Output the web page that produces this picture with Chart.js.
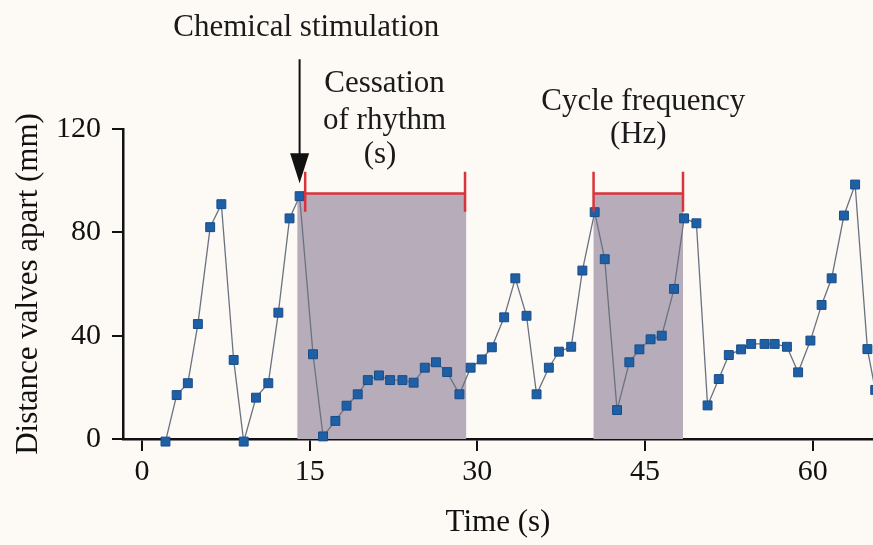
<!DOCTYPE html>
<html>
<head>
<meta charset="utf-8">
<script src="https://cdn.jsdelivr.net/npm/chart.js@4.4.1/dist/chart.umd.min.js"></script>
<style>
  html, body { margin: 0; padding: 0; background: #fdf9f5; }
  #wrap { width: 873px; height: 545px; }
</style>
</head>
<body>
<div id="wrap"><canvas id="chart" width="873" height="545"></canvas></div>
<script>
// 读取自原图的采样点（时间 s，阀门间距 mm）
const timeS = [
  2.1, 3.1, 4.1, 5.0, 6.1, 7.1, 8.2, 9.1, 10.2, 11.3, 12.2, 13.2, 14.1, 15.3,
  16.2, 17.3, 18.3, 19.3, 20.2, 21.2, 22.2, 23.3, 24.3, 25.3, 26.3, 27.3, 28.4,
  29.4, 30.4, 31.3, 32.4, 33.4, 34.4, 35.3, 36.4, 37.3, 38.4, 39.4, 40.5, 41.4,
  42.5, 43.6, 44.5, 45.5, 46.5, 47.6, 48.5, 49.6, 50.6, 51.6, 52.5, 53.6, 54.5,
  55.7, 56.6, 57.7, 58.7, 59.8, 60.8, 61.7, 62.8, 63.8, 64.9, 65.6
];
const distanceMm = [
  -1, 17, 21.6, 44.5, 82, 90.9, 30.6, -1, 16, 21.6, 48.9, 85.4, 94, 32.8,
  1, 7, 12.9, 17.3, 22.8, 24.6, 22.8, 22.8, 21.8, 27.6, 29.7, 25.9, 17.3,
  27.6, 30.8, 35.5, 47.1, 62.2, 47.7, 17.3, 27.6, 33.8, 35.7, 65.2, 87.8, 69.6,
  11.2, 29.7, 34.7, 38.6, 40, 58.1, 85.4, 83.5, 13, 23.2, 32.5, 34.7, 36.8,
  36.8, 36.8, 35.7, 25.8, 38.1, 51.9, 62.2, 86.5, 98.5, 34.8, 19
];
const xTickValues = [0, 15, 30, 45, 60];
const yTickValues = [0, 40, 80, 120];

// 阴影区间与红色括线：[起点, 终点, 高度]
const shadedSpans = [[13.9, 29.0, 95], [40.4, 48.4, 95]];
const brackets = [[14.6, 28.9, 95], [40.4, 48.4, 95]];
const bracketTickRange = [88, 103.5];

// 箭头：x, 起点 y, 箭尖 y（数据单位）
const stimArrow = [14.1, 147, 99];

// 注释文字：文本, 中心 x, 基线 y（数据单位）
const notes = [
  ["Chemical stimulation", 14.7, 156],
  ["Cessation", 21.7, 134.3],
  ["of rhythm", 21.7, 120],
  ["(s)", 21.3, 107],
  ["Cycle frequency", 44.85, 127.5],
  ["(Hz)", 44.4, 114.5]
];

const SERIF = '"Liberation Serif", "Times New Roman", serif';

const overlay = {
  id: "overlay",
  beforeDatasetsDraw(chart) {
    const { ctx, scales: { x, y } } = chart;
    ctx.save();
    ctx.fillStyle = "#b6acba";
    shadedSpans.forEach(([a, b, top]) => {
      const x0 = x.getPixelForValue(a);
      const x1 = x.getPixelForValue(b);
      const y0 = y.getPixelForValue(top);
      const y1 = y.getPixelForValue(0);
      ctx.fillRect(x0, y0, x1 - x0, y1 - y0);
    });
    ctx.restore();
  },
  afterDatasetsDraw(chart) {
    const { ctx, scales: { x, y } } = chart;
    ctx.save();

    // 红色括线
    ctx.strokeStyle = "#d8343c";
    ctx.lineWidth = 2.5;
    brackets.forEach(([a, b, h]) => {
      const x0 = x.getPixelForValue(a);
      const x1 = x.getPixelForValue(b);
      const yh = y.getPixelForValue(h);
      const yt0 = y.getPixelForValue(bracketTickRange[1]);
      const yt1 = y.getPixelForValue(bracketTickRange[0]);
      ctx.beginPath();
      ctx.moveTo(x0, yh);
      ctx.lineTo(x1, yh);
      ctx.moveTo(x0, yt0);
      ctx.lineTo(x0, yt1);
      ctx.moveTo(x1, yt0);
      ctx.lineTo(x1, yt1);
      ctx.stroke();
    });

    // 刺激箭头
    const ax = x.getPixelForValue(stimArrow[0]);
    const ay0 = y.getPixelForValue(stimArrow[1]);
    const ay1 = y.getPixelForValue(stimArrow[2]);
    ctx.strokeStyle = "#111";
    ctx.fillStyle = "#111";
    ctx.lineWidth = 2;
    ctx.beginPath();
    ctx.moveTo(ax, ay0);
    ctx.lineTo(ax, ay1 - 20);
    ctx.stroke();
    ctx.beginPath();
    ctx.moveTo(ax - 9.5, ay1 - 30);
    ctx.lineTo(ax + 9.5, ay1 - 30);
    ctx.lineTo(ax, ay1);
    ctx.closePath();
    ctx.fill();

    // 文字
    ctx.font = "31px " + SERIF;
    ctx.fillStyle = "#1a1a1a";
    ctx.textAlign = "center";
    ctx.textBaseline = "alphabetic";
    notes.forEach(([text, tx, ty]) => {
      ctx.fillText(text, x.getPixelForValue(tx), y.getPixelForValue(ty));
    });
    ctx.restore();
  }
};

const ctx = document.getElementById("chart").getContext("2d");
new Chart(ctx, {
  type: "line",
  data: {
    datasets: [
      {
        data: timeS.map((t, i) => ({ x: t, y: distanceMm[i] })),
        borderColor: "#6a7280",
        borderWidth: 1.3,
        pointStyle: "rect",
        pointRadius: 6.3,
        pointBackgroundColor: "#1f5fa6",
        pointBorderColor: "#184d88",
        pointBorderWidth: 1,
        tension: 0,
        clip: false
      }
    ]
  },
  options: {
    responsive: false,
    animation: false,
    layout: { autoPadding: false, padding: { top: 129, right: 0, left: 0, bottom: 0 } },
    plugins: {
      legend: { display: false },
      tooltip: { enabled: false }
    },
    scales: {
      x: {
        type: "linear",
        min: -1.7,
        max: 65.4,
        afterFit: (s) => {
          s.height = 106;
          s.paddingLeft = 0;
          s.paddingRight = 0;
        },
        afterBuildTicks: (s) => { s.ticks = xTickValues.map((v) => ({ value: v })); },
        border: { color: "#111", width: 2.5 },
        grid: { drawOnChartArea: false, drawTicks: true, tickLength: 12, color: "#111", lineWidth: 2 },
        ticks: { color: "#111", padding: 6, font: { family: SERIF, size: 30, lineHeight: 1 } },
        title: {
          display: true,
          text: "Time (s)",
          color: "#111",
          font: { family: SERIF, size: 31 },
          padding: { top: 0, bottom: 4 }
        }
      },
      y: {
        min: 0,
        max: 120,
        afterFit: (s) => { s.width = 123; },
        afterBuildTicks: (s) => { s.ticks = yTickValues.map((v) => ({ value: v })); },
        border: { color: "#111", width: 2.5 },
        grid: { drawOnChartArea: false, drawTicks: true, tickLength: 11, color: "#111", lineWidth: 2 },
        ticks: { color: "#111", padding: 11, font: { family: SERIF, size: 30, lineHeight: 1 } },
        title: {
          display: true,
          text: "Distance valves apart (mm)",
          color: "#111",
          font: { family: SERIF, size: 31 },
          padding: { top: 10, bottom: 0 }
        }
      }
    }
  },
  plugins: [overlay]
});
</script>
</body>
</html>
